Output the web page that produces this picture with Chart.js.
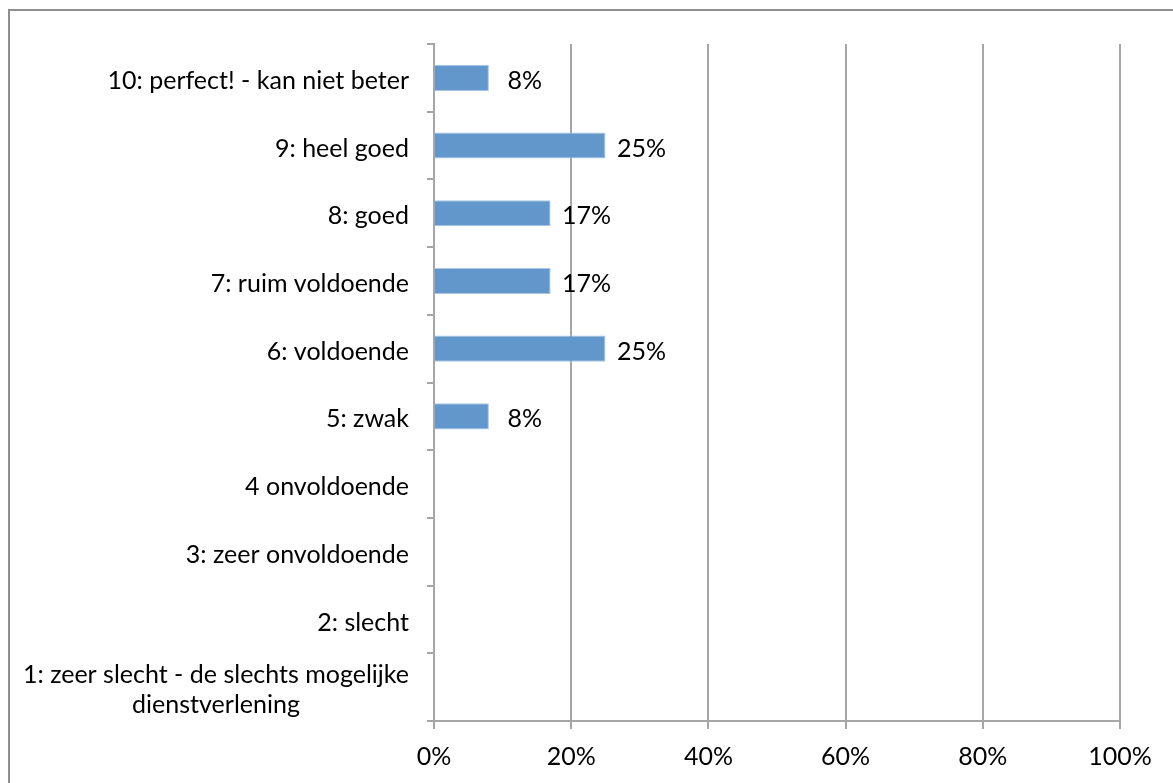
<!DOCTYPE html>
<html>
<head>
<meta charset="utf-8">
<script src="https://cdn.jsdelivr.net/npm/chart.js@4/dist/chart.umd.min.js"></script>
<style>
html,body{margin:0;padding:0;background:#fff;}
#wrap{width:1173px;height:783px;position:relative;}
</style>
</head>
<body>
<div id="wrap"><canvas id="c" width="1173" height="783"></canvas></div>
<script>
const categories = [
  "10: perfect! - kan niet beter",
  "9: heel goed",
  "8: goed",
  "7: ruim voldoende",
  "6: voldoende",
  "5: zwak",
  "4 onvoldoende",
  "3: zeer onvoldoende",
  "2: slecht",
  ["1: zeer slecht - de slechts mogelijke", "dienstverlening"]
];
const values = [8, 25, 17, 17, 25, 8, 0, 0, 0, 0];
const valueLabels = ["8%", "25%", "17%", "17%", "25%", "8%", "", "", "", ""];
const xTicks = [0, 20, 40, 60, 80, 100];

const FONT = "Lato, 'Open Sans', sans-serif";
const FS = 25;

const framePlugin = {
  id: 'frame',
  beforeDraw(chart) {
    const ctx = chart.ctx;
    ctx.save();
    ctx.fillStyle = '#fff';
    ctx.fillRect(0, 0, chart.width, chart.height);
    ctx.strokeStyle = '#8e8e8e';
    ctx.lineWidth = 2;
    ctx.strokeRect(9, 10, chart.width + 20, chart.height + 20);
    ctx.restore();
  }
};

const labelsPlugin = {
  id: 'labels',
  afterDraw(chart) {
    const ctx = chart.ctx;
    const yScale = chart.scales.y;
    ctx.save();
    ctx.fillStyle = '#000';
    ctx.font = FS + 'px ' + FONT;
    ctx.textBaseline = 'middle';
    categories.forEach((lab, i) => {
      const y = yScale.getPixelForTick(i) + 3;
      if (Array.isArray(lab)) {
        ctx.textAlign = 'center';
        const lh = 30;
        const n = lab.length;
        lab.forEach((line, k) => {
          ctx.fillText(line, 216, y + (k - (n - 1) / 2) * lh);
        });
      } else {
        ctx.textAlign = 'right';
        ctx.fillText(lab, 409, y);
      }
    });
    const meta = chart.getDatasetMeta(0);
    ctx.textAlign = 'center';
    meta.data.forEach((bar, i) => {
      if (!valueLabels[i]) return;
      ctx.fillText(valueLabels[i], bar.x + 36, bar.y + 3);
    });
    ctx.restore();
  }
};

new Chart(document.getElementById('c'), {
  type: 'bar',
  data: {
    labels: categories,
    datasets: [{
      data: values,
      backgroundColor: '#6197cb',
      borderColor: '#a9c6e4',
      borderWidth: 1,
      barPercentage: 1,
      categoryPercentage: 0.385
    }]
  },
  options: {
    indexAxis: 'y',
    responsive: false,
    animation: false,
    devicePixelRatio: 1,
    layout: { padding: { top: 44, right: 53, bottom: 0, left: 0 } },
    plugins: { legend: { display: false }, tooltip: { enabled: false } },
    scales: {
      x: {
        min: 0, max: 100,
        afterBuildTicks(s) { s.ticks = xTicks.map(v => ({ value: v })); },
        afterFit(s) { s.height = 62; },
        ticks: {
          color: '#000',
          font: { family: FONT, size: FS },
          padding: 13,
          callback: v => v + '%',
          maxRotation: 0
        },
        grid: { color: '#a6a6a6', lineWidth: 2, tickLength: 8, drawTicks: true },
        border: { color: '#a6a6a6', width: 2 }
      },
      y: {
        afterFit(s) { s.width = 434; },
        ticks: { display: false },
        grid: { offset: true, drawOnChartArea: false, drawTicks: true, tickLength: 7, color: '#a6a6a6', lineWidth: 2 },
        border: { color: '#a6a6a6', width: 2 }
      }
    }
  },
  plugins: [framePlugin, labelsPlugin]
});
</script>
</body>
</html>
